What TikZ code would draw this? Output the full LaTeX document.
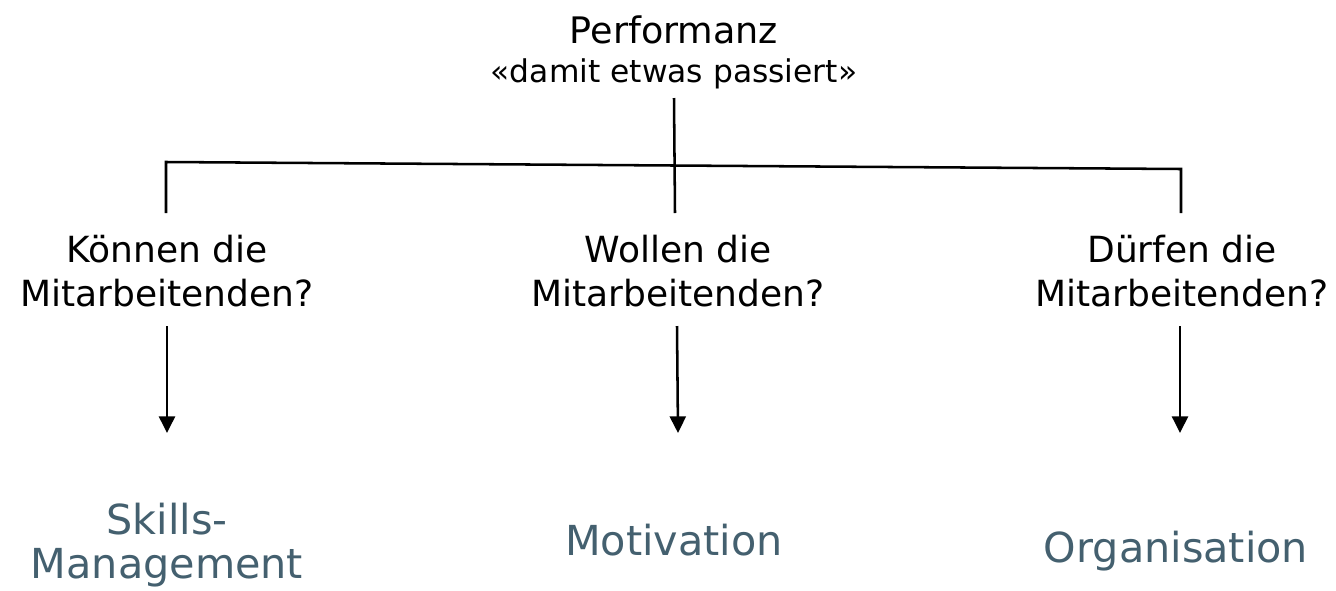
\documentclass[tikz,border=0pt]{standalone}
\usepackage{fontspec}
\setmainfont{DejaVu Sans}
\usetikzlibrary{arrows.meta}
\definecolor{slateblue}{RGB}{68,96,111}
\tikzset{
  wire/.style={line width=1.9pt, black},
  pointer/.style={wire, -{Triangle[width=12pt,length=12.5pt]}},
  headline/.style={font=\fontsize{27.4}{33}\selectfont, inner sep=0pt},
  subline/.style={font=\fontsize{23.5}{28}\selectfont, inner sep=0pt},
  question/.style={font=\fontsize{27}{33}\selectfont, align=center, inner sep=0pt},
  outcome/.style={font=\fontsize{31}{32.5}\selectfont, align=center, inner sep=0pt, text=slateblue},
}
\begin{document}
\begin{tikzpicture}[x=0.75pt,y=-0.75pt]
\useasboundingbox (0,0) rectangle (1336,590);

% title (anchor = baseline of the last line)
\node[headline, anchor=base] (title) at (674,43) {Performanz};
\node[subline, anchor=base] (subtitle) at (674,82) {«damit etwas passiert»};
\coordinate (stem) at (674,98);

% three questions
\node[question, anchor=base] (q1) at (167,306) {Können die\\Mitarbeitenden?};
\node[question, anchor=base] (q2) at (678,306) {Wollen die\\Mitarbeitenden?};
\node[question, anchor=base] (q3) at (1182,306) {Dürfen die\\Mitarbeitenden?};

% outcomes
\node[outcome, anchor=base] (o1) at (167,578) {Skills-\\Management};
\node[outcome, anchor=base] (o2) at (674,555) {Motivation};
\node[outcome, anchor=base] (o3) at (1176,562) {Organisation};

% tree wires
\coordinate (bl) at (166,162);
\coordinate (br) at (1181,169);
\coordinate (bl2) at (166,213);
\coordinate (br2) at (1181,213);
\coordinate (bm2) at (675,213);
\draw[wire] (stem) -- (bm2);
\draw[wire] (bl2) -- (bl) -- (br) -- (br2);

% arrows from the questions to the outcomes
\coordinate (a1s) at (167,326); \coordinate (a1e) at (167,433);
\coordinate (a2s) at (677,326); \coordinate (a2e) at (678,433);
\coordinate (a3s) at (1180,326); \coordinate (a3e) at (1180,433);
\draw[pointer] (a1s) -- (a1e);
\draw[pointer] (a2s) -- (a2e);
\draw[pointer] (a3s) -- (a3e);
\end{tikzpicture}
\end{document}
